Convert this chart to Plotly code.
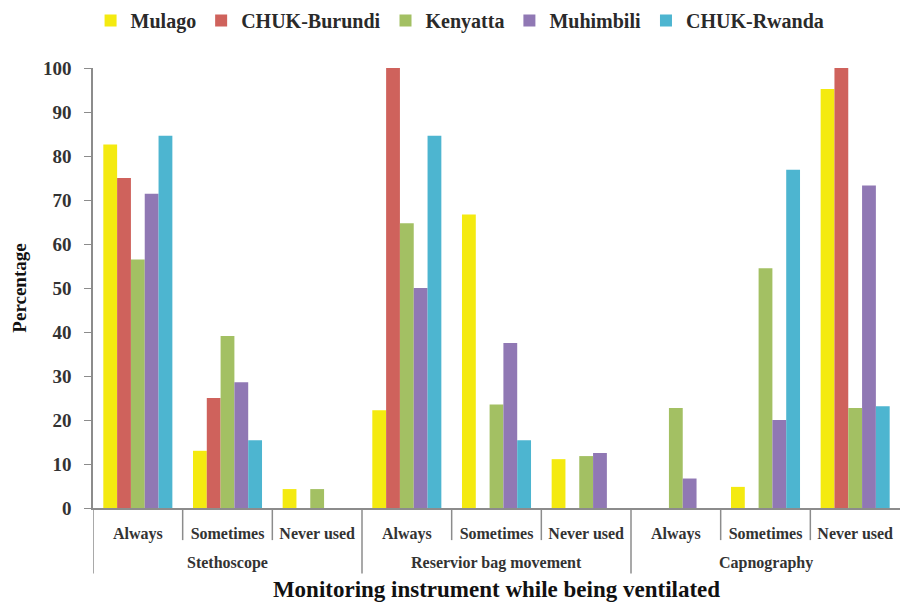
import plotly.graph_objects as go

# Survey results: how often each monitoring instrument is used during ventilation
instrument_names = ["Stethoscope", "Reservior bag movement", "Capnography"]
frequency_names = ["Always", "Sometimes", "Never used"]
frequency = frequency_names * 3

hospitals = ["Mulago", "CHUK-Burundi", "Kenyatta", "Muhimbili", "CHUK-Rwanda"]
mulago = [82.6, 13.0, 4.3, 22.2, 66.7, 11.1, 0, 4.8, 95.2]
chuk_burundi = [75.0, 25.0, 0, 100.0, 0, 0, 0, 0, 100.0]
kenyatta = [56.5, 39.1, 4.3, 64.7, 23.5, 11.8, 22.7, 54.5, 22.7]
muhimbili = [71.4, 28.6, 0, 50.0, 37.5, 12.5, 6.7, 20.0, 73.3]
chuk_rwanda = [84.6, 15.4, 0, 84.6, 15.4, 0, 0, 76.9, 23.1]

series = [mulago, chuk_burundi, kenyatta, muhimbili, chuk_rwanda]
colors = ["#F4EA10", "#CF625C", "#A3C063", "#9078B4", "#4DB5D0"]

y_ticks = list(range(0, 101, 10))

serif = "Liberation Serif"
grey = "#8C8C8C"

# one slot per (instrument, frequency) pair
slots = list(range(len(frequency)))
n_sub = len(frequency_names)
inner_bounds = [i + 0.5 for i in slots[:-1] if (i + 1) % n_sub != 0]
group_bounds = [g * n_sub - 0.5 for g in range(len(instrument_names))]
group_centres = [g * n_sub + (n_sub - 1) / 2 for g in range(len(instrument_names))]

fig = go.Figure()
for name, vals, col in zip(hospitals, series, colors):
    fig.add_trace(go.Bar(
        x=slots,
        y=vals,
        name=name,
        customdata=frequency,
        marker=dict(color=col, line=dict(width=0)),
    ))

# long separators between instrument groups
for xb in group_bounds:
    fig.add_shape(type="line", xref="x", yref="paper", x0=xb, x1=xb, y0=0, y1=-0.149,
                  line=dict(color=grey, width=1.5))
# short separators between frequency labels
for xb in inner_bounds:
    fig.add_shape(type="line", xref="x", yref="paper", x0=xb, x1=xb, y0=0, y1=-0.073,
                  line=dict(color=grey, width=1.5))
# instrument names beneath the frequency labels
for xc, label in zip(group_centres, instrument_names):
    fig.add_annotation(x=xc, xref="x", y=-0.125, yref="paper", yanchor="middle",
                       text=label, showarrow=False,
                       font=dict(family=serif, size=16, color="#333333", weight="bold"))

fig.update_layout(
    width=901,
    height=608,
    barmode="group",
    bargap=0.23,
    bargroupgap=0,
    plot_bgcolor="white",
    paper_bgcolor="white",
    margin=dict(l=93, r=1, t=68, b=100),
    font=dict(family=serif, color="#222222"),
    legend=dict(
        orientation="h",
        x=-0.003, xanchor="left",
        y=1.152, yanchor="top",
        font=dict(family=serif, size=20, color="#2a2a2a", weight="bold"),
        itemwidth=30,
        traceorder="normal",
    ),
    showlegend=True,
)

fig.update_yaxes(
    range=[0, 100],
    tickvals=y_ticks,
    showgrid=False,
    zeroline=False,
    showline=True,
    linecolor=grey,
    linewidth=1.5,
    ticks="outside",
    ticklen=7,
    tickcolor=grey,
    ticklabelstandoff=9,
    tickfont=dict(family=serif, size=19, color="#333333", weight="bold"),
    title=dict(text="Percentage", font=dict(family=serif, size=19, color="#111111", weight="bold"), standoff=11),
)

fig.update_xaxes(
    range=[-0.5, len(slots) - 0.5],
    tickvals=slots,
    ticktext=frequency,
    showgrid=False,
    zeroline=False,
    showline=True,
    linecolor=grey,
    linewidth=1.5,
    ticks="",
    ticklabelstandoff=10,
    tickfont=dict(family=serif, size=16, color="#333333", weight="bold"),
    title=dict(text="Monitoring instrument while being ventilated",
               font=dict(family=serif, size=23, color="#111111", weight="bold"), standoff=39),
)

fig.write_html("out.html")
